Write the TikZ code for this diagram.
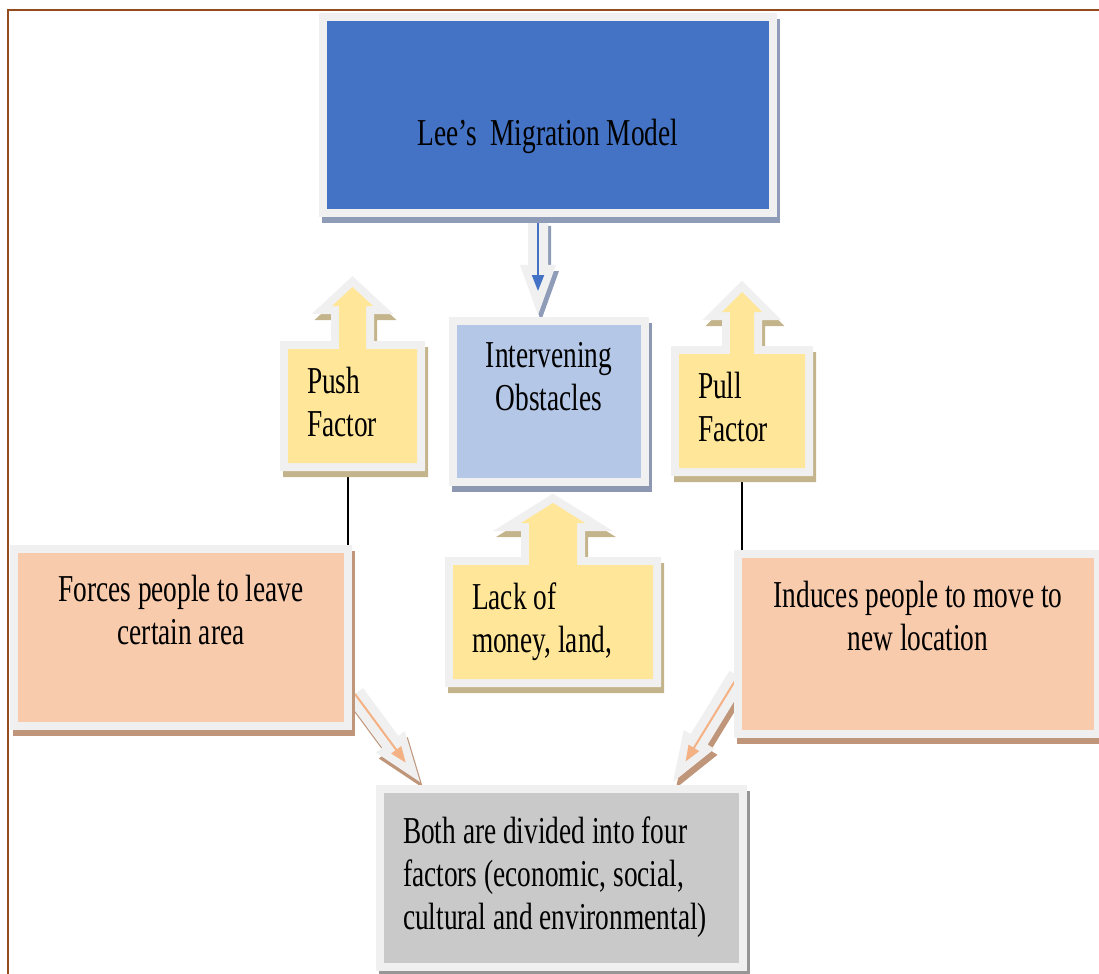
\documentclass[tikz,border=0pt]{standalone}
\usepackage{fontspec}
\setmainfont{Liberation Serif}[FakeStretch=0.72]
\usetikzlibrary{arrows.meta,calc,backgrounds}
\definecolor{rim}{RGB}{240,240,240}
\definecolor{leeblue}{RGB}{68,114,196}
\definecolor{leeblueshade}{RGB}{143,156,184}
\definecolor{paleblue}{RGB}{180,199,231}
\definecolor{paleblueshade}{RGB}{140,152,178}
\definecolor{sand}{RGB}{255,230,153}
\definecolor{sandshade}{RGB}{196,180,140}
\definecolor{peach}{RGB}{248,203,173}
\definecolor{peachshade}{RGB}{192,150,122}
\definecolor{orangeline}{RGB}{244,177,131}
\definecolor{stone}{RGB}{201,201,201}
\definecolor{stoneshade}{RGB}{150,150,150}
\definecolor{frameline}{RGB}{150,75,28}

% up-arrow callout round a node: node, style, shaft half, head half, base rise, tip rise
\newcommand\upcallout[6]{%
  \path[#2] (#1.south west) |- ($(#1.north)+(-#3,0)$) -- ($(#1.north)+(-#3,-#5)$)
    -- ($(#1.north)+(-#4,-#5)$) -- ($(#1.north)+(0,-#6)$) -- ($(#1.north)+(#4,-#5)$)
    -- ($(#1.north)+(#3,-#5)$) -- ($(#1.north)+(#3,0)$) -| (#1.south east) -- cycle;}

% hollow block arrow with a thin arrow inside: from, to, line colour, shadow colour
\newcommand\hollowarrow[4]{%
  \coordinate (ha-s) at (#1);
  \coordinate (ha-t) at (#2);
  \coordinate (ha-b) at ($(ha-t)!25pt!(ha-s)$);
  \fill[rim,preaction={fill=#4,transform canvas={xshift=1.5pt,yshift=-3pt}}]
    ($(ha-s)!5pt!90:(ha-t)$) -- ($(ha-b)!5pt!90:(ha-t)$) -- ($(ha-b)!9pt!90:(ha-t)$) -- (ha-t)
    -- ($(ha-b)!9pt!-90:(ha-t)$) -- ($(ha-b)!5pt!-90:(ha-t)$) -- ($(ha-s)!5pt!-90:(ha-t)$) -- cycle;
  \draw[#3,line width=1pt,-{Triangle[length=8pt,width=6pt]}] (ha-s) -- ($(ha-t)!12pt!(ha-s)$);}

\begin{document}
\begin{tikzpicture}[x=0.5pt,y=-0.5pt,
    panel/.style={rectangle,inner sep=0pt,outer sep=0pt,font=\fontsize{19}{21.5}\selectfont,
      execute at begin node=\strut,execute at end node=\strut},
    rimmed/.style={preaction={draw=#1,fill=#1,line width=8pt,transform canvas={xshift=1.5pt,yshift=-3pt}},
      preaction={draw=rim,line width=8pt}},
    link/.style={draw=black,line width=1pt},
    frame/.style={draw=frameline,line width=1.2pt}
  ]
  \useasboundingbox (0,0) rectangle (1099,974);
  \draw[frame] (8,974) |- (1099,10);

  \node[panel,fill=leeblue,rimmed=leeblueshade,minimum width=221pt,minimum height=94pt,align=center] (title) at (548,115) {\strut\\Lee’s~ Migration Model};
  \node[panel,fill=paleblue,rimmed=paleblueshade,minimum width=92pt,minimum height=76.5pt,align=center] (obst) at (549,401.5) {\strut Intervening\\Obstacles\\};
  \node[panel,minimum width=64.5pt,minimum height=57pt,text width=45.5pt,align=flush left] (push) at (352.5,406) {Push\\Factor};
  \node[panel,minimum width=63pt,minimum height=57pt,text width=44pt,align=flush left] (pull) at (742,411) {Pull\\Factor};
  \node[panel,minimum width=100pt,minimum height=57pt,text width=81pt,align=flush left] (lack) at (553,622) {Lack of\\money, land,};
  \node[panel,fill=peach,rimmed=peachshade,minimum width=163pt,minimum height=84.5pt,align=center] (forces) at (181,637.5) {Forces people to leave\\certain area\\};
  \node[panel,fill=peach,rimmed=peachshade,minimum width=176pt,minimum height=86pt,align=center] (induces) at (918,644) {Induces people to move to\\new location\\};
  \node[panel,fill=stone,rimmed=stoneshade,minimum width=177.5pt,minimum height=85pt,text width=158.5pt,align=flush left] (both) at (561.5,878) {Both are divided into four\\factors (economic, social,\\cultural and environmental)};

  \begin{scope}[on background layer]
    \draw[link] ($(push.south)+(-4.5,0)$) -- ($(push.south |- forces.north)+(-4.5,0)$);
    \draw[link] (pull.south) -- (pull.south |- induces.north);
    \upcallout{push}{fill=sand,rimmed=sandshade}{13.5}{20.5}{43}{62}
    \upcallout{pull}{fill=sand,rimmed=sandshade}{12}{20}{42}{62}
    \upcallout{lack}{fill=sand,rimmed=sandshade}{24}{32}{42}{62}
    \hollowarrow{$(title.south)+(-10,11)$}{$(obst.north)+(-11,-10)$}{leeblue}{leeblueshade}
    \hollowarrow{$(forces.south east)+(11,-28)$}{$(both.north west)+(36,-11)$}{orangeline}{peachshade}
    \hollowarrow{$(induces.south west)+(-4,-54)$}{$(both.north east)+(-66,-11)$}{orangeline}{peachshade}
  \end{scope}
\end{tikzpicture}
\end{document}
